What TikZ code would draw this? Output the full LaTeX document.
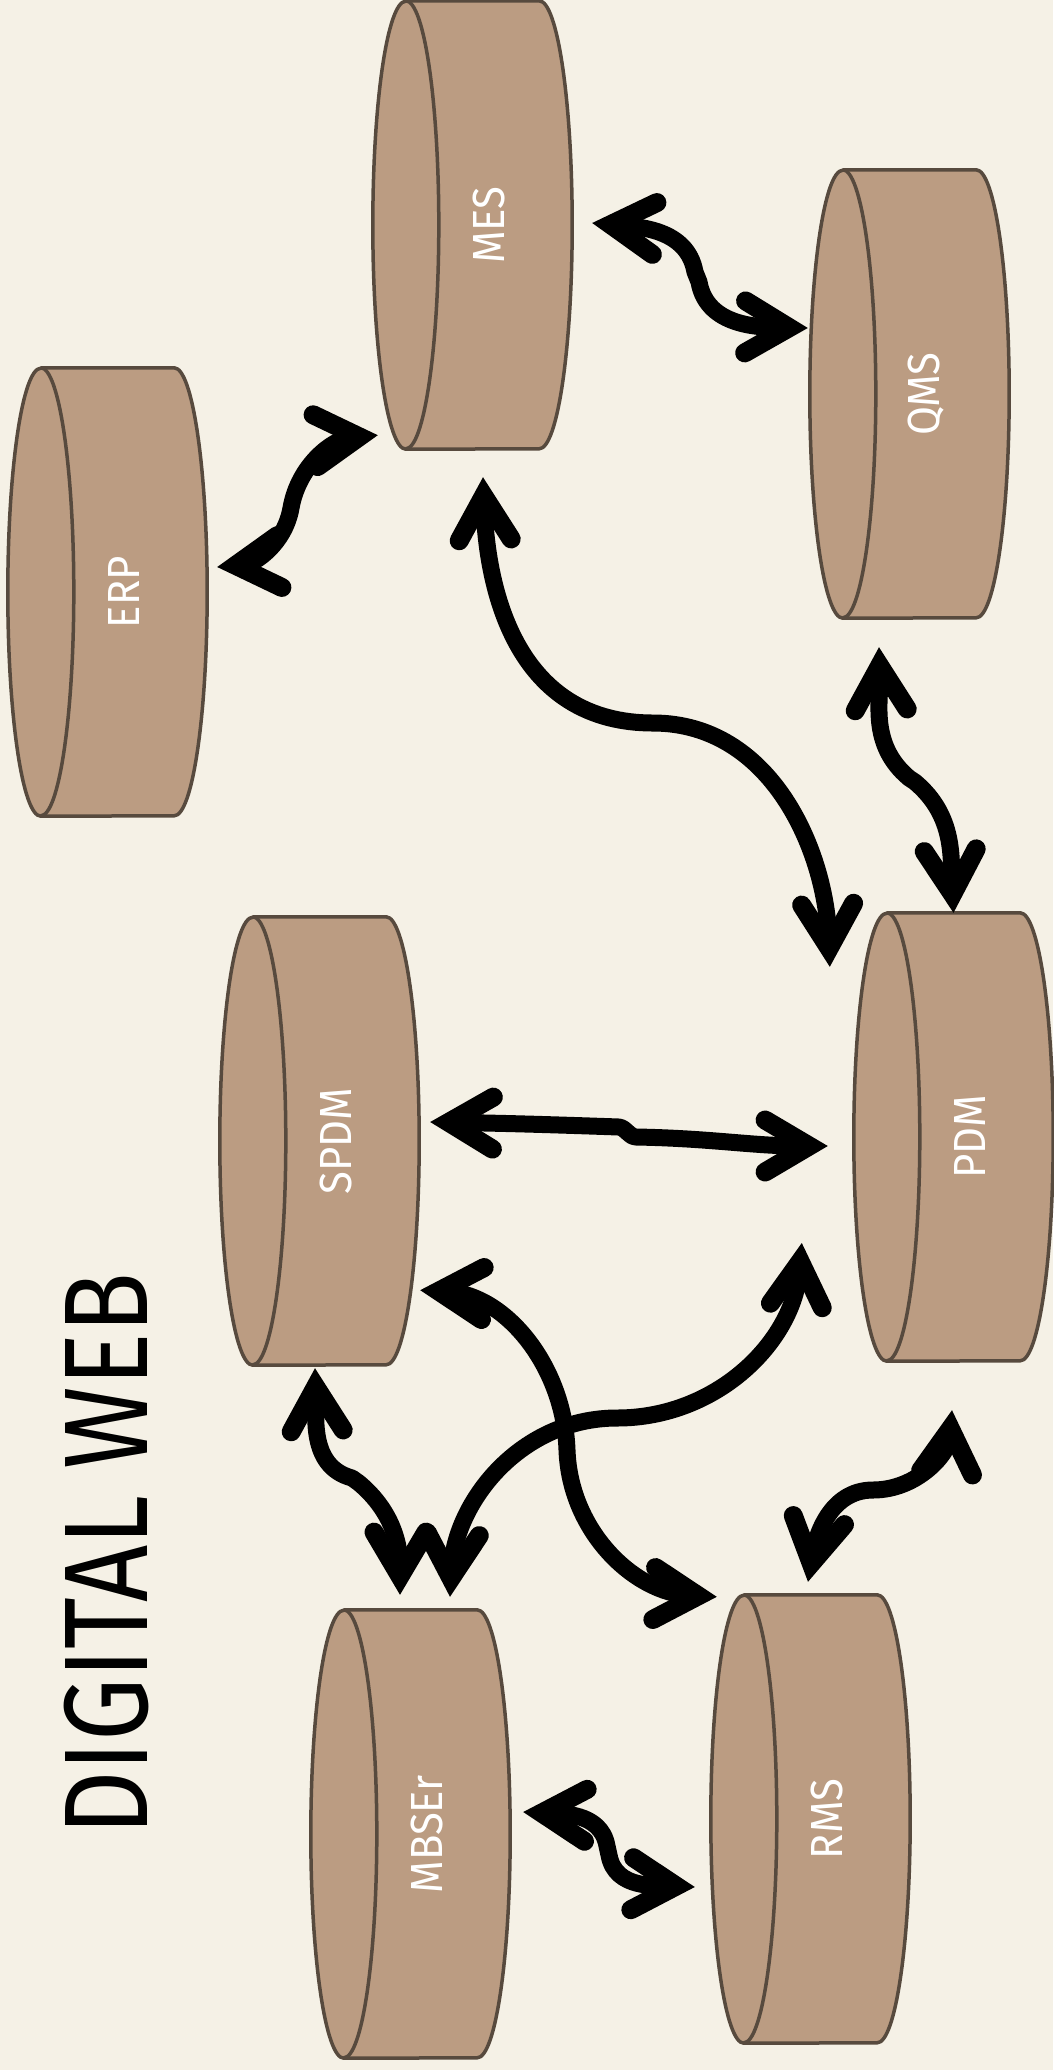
\documentclass[tikz,border=0pt]{standalone}
\usepackage{fontspec}
\setmainfont{Fira Sans}
\usetikzlibrary{arrows.meta,calc}
\definecolor{paper}{HTML}{F5F1E6}
\definecolor{drum}{HTML}{BB9C82}
\definecolor{drumedge}{HTML}{574A3E}

\tikzset{
  slot/.style={rectangle, inner sep=0pt, minimum width=199pt, minimum height=448pt},
  drumbody/.style={fill=drum, draw=drumedge, line width=3.5pt, line join=round},
  drumrim/.style={draw=drumedge, line width=3.5pt},
  tag/.style={rotate=90, text=white, inner sep=0pt, font=\fontsize{45}{45}\selectfont},
  link/.style={<->, line width=17pt, line join=round,
    >={Straight Barb[length=44pt, width=52pt, line width=19pt, line cap=round, line join=miter]}},
}

% a database drum lying on its side: name, left x, top y, text
\newcommand\drum[4]{%
  \node[slot] (#1) at (#2+99.5, -#3-224) {};
  \path[drumbody] ([xshift=33pt]#1.north west) -- ([xshift=-33pt]#1.north east)
     arc[start angle=90, end angle=-90, x radius=33pt, y radius=224pt]
     -- ([xshift=33pt]#1.south west)
     arc[start angle=270, end angle=90, x radius=33pt, y radius=224pt] -- cycle;
  \draw[drumrim] ([xshift=33pt]#1.north west)
     arc[start angle=90, end angle=-90, x radius=33pt, y radius=224pt];
  \node[tag] (#1-tag) at ([xshift=116pt]#1.west) {\scalebox{0.93}[1]{#4}};
}

\begin{document}
\begin{tikzpicture}[x=1pt, y=1pt]
\path[fill=paper] (0,0) rectangle (1053,-2070);
\useasboundingbox (0,0) rectangle (1053,-2070);

\drum{MES}{373}{1}{MES}
\drum{ERP}{8}{368}{ERP}
\drum{QMS}{810}{170}{QMS}
\drum{PDM}{854}{913}{PDM}
\drum{SPDM}{220}{917}{SPDM}
\drum{MBSEr}{311}{1610}{MBSEr}
\drum{RMS}{711}{1595}{RMS}

\node[rotate=90, anchor=base west, inner sep=0pt, font=\fontsize{119}{119}\selectfont]
  (title) at (147,-1836) {\scalebox{0.84}[1]{DIGITAL WEB}};

% links between the systems
\draw[link] ($(ERP.east)+(10,25)$) to[out=5,in=-100] (291,-508)
  to[out=80,in=185] ($(MES.south west)+(5,14)$);
\draw[link] ($(MES.east)+(20,2)$) to[out=-5,in=100] (695,-272) -- (699,-282)
  to[out=-80,in=179] ($(QMS.west)+(-2,66)$);
\draw[link] ($(MES.south)+(10.5,-28)$) to[out=-88,in=180,looseness=1.1] (653,-723)
  to[out=0,in=92] ($(PDM.north west)+(-24,-54)$);
\draw[link] ($(QMS.south)+(-30.5,-29)$) to[out=-88,in=140] (909,-778) -- (915,-782)
  to[out=-40,in=93] (PDM.north);
\draw[link] ($(SPDM.east)+(11,19)$) to[out=-1,in=178] (619,-1127)
  to[out=-10,in=175] (636,-1137) to[out=-1,in=180] ($(PDM.west)+(-26,-9)$);
\draw[link] ($(SPDM.south east)+(1,75)$) to[out=-3,in=92] (567,-1450)
  to[out=-88,in=177] ($(RMS.north west)+(6,-2)$);
\draw[link] ($(MBSEr.north)+(39.5,13)$) to[out=87,in=180] (617,-1418)
  to[out=0,in=-95] ($(PDM.west)+(-52,-106)$);
\draw[link] ($(SPDM.south)+(-4.5,-3)$) to[out=-88,in=165] (352,-1478) -- (359,-1483)
  to[out=-40,in=90] ($(MBSEr.north)+(-10.5,15)$);
\draw[link] ($(RMS.north)+(-2.5,13)$) to[out=80,in=180] (873,-1490)
  to[out=0,in=-95] ($(PDM.south)+(-1.5,-49)$);
\draw[link] ($(MBSEr.east)+(13,22)$) to[out=-3,in=100] (607,-1846) -- (609,-1855)
  to[out=-80,in=177] ($(RMS.west)+(-16,-68)$);
\end{tikzpicture}
\end{document}
